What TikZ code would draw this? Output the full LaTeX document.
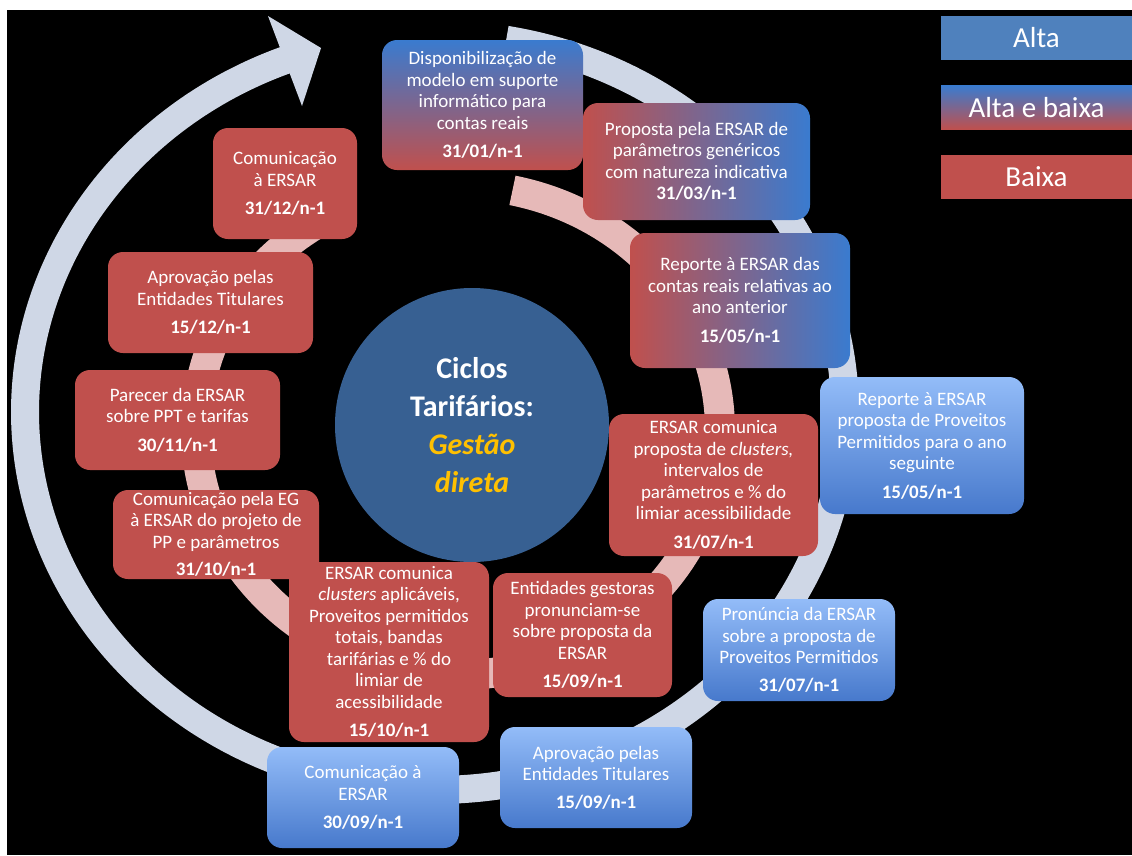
\documentclass[tikz,border=0pt]{standalone}
\usepackage{fontspec}
\setmainfont{Carlito}
\definecolor{cred}{HTML}{C0504D}
\definecolor{cblue}{HTML}{3A7BCF}
\definecolor{lbtop}{HTML}{93BCF8}
\definecolor{lbbot}{HTML}{4779CC}
\definecolor{ringc}{HTML}{CFD7E6}
\definecolor{pinkc}{HTML}{E6B9B8}
\definecolor{circc}{HTML}{376092}
\definecolor{goldc}{HTML}{FFC000}
\definecolor{legblue}{HTML}{4F81BD}
\begin{document}
\begin{tikzpicture}[x=1pt,y=-1pt,
  box/.style={rounded corners=15pt, align=center, text=white, inner sep=0pt,
    font=\fontsize{19}{21.5}\selectfont},
  redbox/.style={box, fill=cred},
  ltbox/.style={box, top color=lbtop, bottom color=lbbot},
  vmix/.style={box, top color=cblue, bottom color=cred},
  hmix/.style={box, left color=cred, right color=cblue},
  legend/.style={inner sep=0pt, text=white, font=\fontsize{29}{34}\selectfont,
    minimum width=191pt, minimum height=44pt},
  dsz/.style 2 args={minimum width=#1pt, minimum height=#2pt},
]
\useasboundingbox (0,0) rectangle (1132,855);
\fill[white] (0,0) rectangle (1132,855);
\fill[black] (7,10) rectangle (1132,855);

% outer cycle arrow
\draw[ringc, line width=28pt] plot[domain=280:609, samples=200, smooth]
  ({435+410*cos(\x)},{412+378*sin(\x)});
\coordinate (hb1) at (268,16);
\coordinate (hb2) at (302,106);
\coordinate (htip) at (321,48);
\fill[ringc] (hb1) -- (htip) -- (hb2) -- cycle;

% inner ring
\draw[pinkc, line width=30pt] plot[domain=282:600, samples=200, smooth]
  ({458+262*cos(\x)},{430+245*sin(\x)});

% centre
\node[circle, fill=circc, minimum size=274pt, inner sep=0pt, align=center,
  text=white, font=\bfseries\fontsize{30}{38}\selectfont] (centre) at (472,425)
  {Ciclos\\Tarif\'arios:\\\textcolor{goldc}{\itshape Gest\~ao}\\\textcolor{goldc}{\itshape direta}};

% boxes
\node[vmix, dsz={201}{130}] (b1) at (482.5,105)
  {Disponibiliza\c{c}\~ao de\\modelo em suporte\\inform\'atico para\\contas reais\\[7pt]\textbf{31/01/n-1}};
\node[hmix, dsz={227}{117}] (b2) at (696.5,161.5)
  {Proposta pela ERSAR de\\par\^ametros gen\'ericos\\com natureza indicativa\\\textbf{31/03/n-1}};
\node[hmix, dsz={220}{135}] (b3) at (740,300.5)
  {Reporte \`a ERSAR das\\contas reais relativas ao\\ano anterior\\[7pt]\textbf{15/05/n-1}};
\node[ltbox, dsz={204}{137}] (b4) at (922,445.5)
  {Reporte \`a ERSAR\\proposta de Proveitos\\Permitidos para o ano\\seguinte\\[7pt]\textbf{15/05/n-1}};
\node[redbox, dsz={209}{142}] (b5) at (713.5,485)
  {ERSAR comunica\\proposta de \textit{clusters,}\\intervalos de\\par\^ametros e \% do\\limiar acessibilidade\\[7pt]\textbf{31/07/n-1}};
\node[ltbox, dsz={192}{102}] (b6) at (799,650)
  {Pron\'uncia da ERSAR\\sobre a proposta de\\Proveitos Permitidos\\[6pt]\textbf{31/07/n-1}};
\node[redbox, dsz={179}{124}] (b7) at (582.5,635)
  {Entidades gestoras\\pronunciam-se\\sobre proposta da\\ERSAR\\[7pt]\textbf{15/09/n-1}};
\node[ltbox, dsz={192}{101}] (b8) at (596,777.5)
  {Aprova\c{c}\~ao pelas\\Entidades Titulares\\[6pt]\textbf{15/09/n-1}};
\node[ltbox, dsz={192}{101}] (b9) at (363,797.5)
  {Comunica\c{c}\~ao \`a\\ERSAR\\[7pt]\textbf{30/09/n-1}};
\node[redbox, dsz={200}{180}] (b10) at (389,652)
  {ERSAR comunica\\\textit{clusters} aplic\'aveis,\\Proveitos permitidos\\totais, bandas\\tarif\'arias e \% do\\limiar de\\acessibilidade\\[7pt]\textbf{15/10/n-1}};
\node[redbox, dsz={206}{89}] (b11) at (216,534.5)
  {Comunica\c{c}\~ao pela EG\\\`a ERSAR do projeto de\\PP e par\^ametros\\[6pt]\textbf{31/10/n-1}};
\node[redbox, dsz={205}{100}] (b12) at (177.5,420)
  {Parecer da ERSAR\\sobre PPT e tarifas\\[7pt]\textbf{30/11/n-1}};
\node[redbox, dsz={205}{101}] (b13) at (210.5,302.5)
  {Aprova\c{c}\~ao pelas\\Entidades Titulares\\[7pt]\textbf{15/12/n-1}};
\node[redbox, dsz={144}{111}] (b14) at (285,183.5)
  {Comunica\c{c}\~ao\\\`a ERSAR\\[7pt]\textbf{31/12/n-1}};

% legend
\node[legend, fill=legblue] (alta) at (1036.5,38) {Alta};
\node[legend, top color=cblue, bottom color=cred] (altabaixa) at (1036.5,107.5) {Alta e baixa};
\node[legend, fill=cred] (baixa) at (1036.5,177) {Baixa};
\end{tikzpicture}
\end{document}
